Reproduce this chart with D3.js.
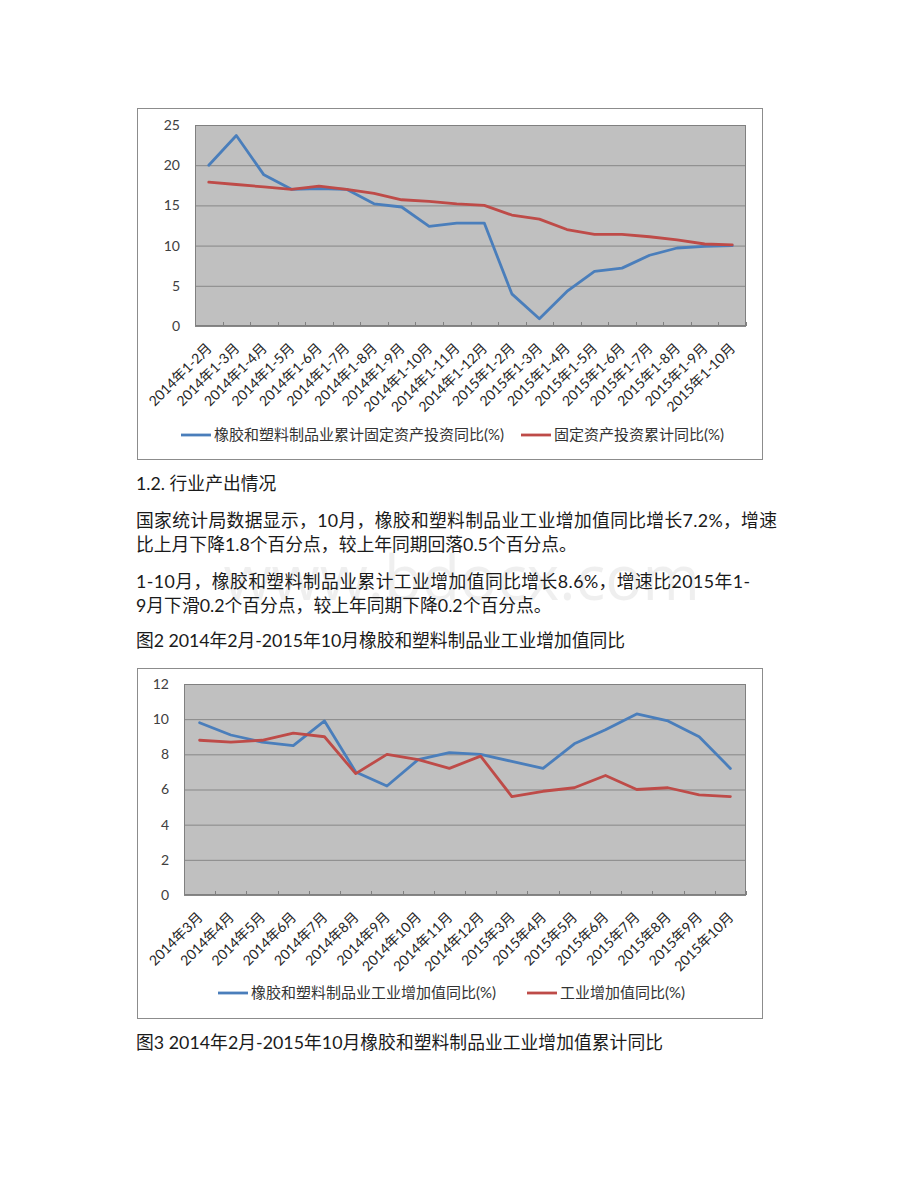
<!DOCTYPE html>
<html>
<head>
<meta charset="utf-8">
<script src="https://cdn.jsdelivr.net/npm/d3@7"></script>
<style>
  body { margin: 0; background: #fff; }
  svg text { font-family: Lato, "Noto Sans CJK SC", sans-serif; }
</style>
</head>
<body>
<svg id="page"></svg>
<script>
// ---- chart 1 data: cumulative fixed asset investment, y/y (%)
var cats1 = ["2014年1-2月", "2014年1-3月", "2014年1-4月", "2014年1-5月", "2014年1-6月",
             "2014年1-7月", "2014年1-8月", "2014年1-9月", "2014年1-10月", "2014年1-11月",
             "2014年1-12月", "2015年1-2月", "2015年1-3月", "2015年1-4月", "2015年1-5月",
             "2015年1-6月", "2015年1-7月", "2015年1-8月", "2015年1-9月", "2015年1-10月"];
var rubberInvest = [20.0, 23.7, 18.8, 17.0, 17.1, 17.0, 15.2, 14.8, 12.4, 12.8,
                    12.8, 4.0, 0.9, 4.3, 6.8, 7.2, 8.8, 9.7, 9.9, 10.0];
var fixedInvest = [17.9, 17.6, 17.3, 17.0, 17.4, 17.0, 16.5, 15.7, 15.5, 15.2,
                   15.0, 13.8, 13.3, 12.0, 11.4, 11.4, 11.1, 10.7, 10.2, 10.1];
var yTicks1 = [0, 5, 10, 15, 20, 25];
var legend1 = ["橡胶和塑料制品业累计固定资产投资同比(%)", "固定资产投资累计同比(%)"];

// ---- chart 2 data: industrial value added, y/y (%)
var cats2 = ["2014年3月", "2014年4月", "2014年5月", "2014年6月", "2014年7月", "2014年8月",
             "2014年9月", "2014年10月", "2014年11月", "2014年12月", "2015年3月", "2015年4月",
             "2015年5月", "2015年6月", "2015年7月", "2015年8月", "2015年9月", "2015年10月"];
var rubberAdded = [9.8, 9.1, 8.7, 8.5, 9.9, 7.0, 6.2, 7.7, 8.1, 8.0,
                   7.6, 7.2, 8.6, 9.4, 10.3, 9.9, 9.0, 7.2];
var industryAdded = [8.8, 8.7, 8.8, 9.2, 9.0, 6.9, 8.0, 7.7, 7.2, 7.9,
                     5.6, 5.9, 6.1, 6.8, 6.0, 6.1, 5.7, 5.6];
var yTicks2 = [0, 2, 4, 6, 8, 10, 12];
var legend2 = ["橡胶和塑料制品业工业增加值同比(%)", "工业增加值同比(%)"];

// ---- page text
var heading = "1.2. 行业产出情况";
var para1 = ["国家统计局数据显示，10月，橡胶和塑料制品业工业增加值同比增长7.2%，增速",
             "比上月下降1.8个百分点，较上年同期回落0.5个百分点。"];
var para2 = ["1-10月，橡胶和塑料制品业累计工业增加值同比增长8.6%，增速比2015年1-",
             "9月下滑0.2个百分点，较上年同期下降0.2个百分点。"];
var caption2 = "图2 2014年2月-2015年10月橡胶和塑料制品业工业增加值同比";
var caption3 = "图3 2014年2月-2015年10月橡胶和塑料制品业工业增加值累计同比";

var BLUE = "#4a7ebb", RED = "#be4b48";

var svg = d3.select("#page").attr("width", 920).attr("height", 1191);
svg.append("rect").attr("width", 920).attr("height", 1191).attr("fill", "#fff");

// faint watermark behind the text
svg.append("text")
   .attr("x", 700).attr("y", 600)
   .attr("text-anchor", "end")
   .style("font-family", "'Open Sans', sans-serif")
   .style("font-size", "62px")
   .attr("fill", "#000").attr("opacity", 0.06)
   .text("www.bdocx.com");

function drawChart(cfg) {
    var g = svg.append("g");
    var p = cfg.plot;

    // outer frame
    g.append("rect")
     .attr("x", cfg.frame.x + 0.5).attr("y", cfg.frame.y + 0.5)
     .attr("width", cfg.frame.w).attr("height", cfg.frame.h)
     .attr("fill", "#fff").attr("stroke", "#8c8c8c");

    var x = d3.scaleBand().domain(cfg.cats).range([p.left, p.right]);
    var y = d3.scaleLinear().domain([0, d3.max(cfg.yTicks)]).range([p.bottom, p.top]);

    // plot area
    g.append("rect")
     .attr("x", p.left).attr("y", p.top)
     .attr("width", p.right - p.left).attr("height", p.bottom - p.top)
     .attr("fill", "#c0c0c0");

    // gridlines
    var grid = g.append("g")
     .attr("transform", "translate(" + p.left + ",0)")
     .call(d3.axisLeft(y).tickValues(cfg.yTicks).tickSize(-(p.right - p.left)).tickFormat(""));
    grid.select(".domain").remove();
    grid.selectAll("line").attr("stroke", "#878787").attr("stroke-width", 1);

    // plot border
    g.append("rect")
     .attr("x", p.left + 0.5).attr("y", p.top + 0.5)
     .attr("width", p.right - p.left - 1).attr("height", p.bottom - p.top - 1)
     .attr("fill", "none").attr("stroke", "#808080");

    // y labels
    var yAx = g.append("g")
     .attr("transform", "translate(" + p.left + ",0)")
     .call(d3.axisLeft(y).tickValues(cfg.yTicks).tickSize(0).tickPadding(15));
    yAx.select(".domain").remove();
    yAx.selectAll("text")
       .style("font-family", "Lato, 'Noto Sans CJK SC', sans-serif")
       .style("font-size", "14px").attr("fill", "#404040");

    // category boundary ticks on the x axis
    var edges = cfg.cats.map(function(d) { return x(d); }).concat([p.right]);
    g.selectAll(".xtick").data(edges).enter().append("line")
     .attr("x1", function(d) { return Math.round(d) + 0.5; })
     .attr("x2", function(d) { return Math.round(d) + 0.5; })
     .attr("y1", p.bottom).attr("y2", p.bottom - 4)
     .attr("stroke", "#808080");

    // x labels, rotated
    g.selectAll(".xlab").data(cfg.cats).enter().append("text")
     .attr("transform", function(d) {
         return "translate(" + (x(d) + x.bandwidth() / 2 + 4) + "," + (p.bottom + 23) + ")rotate(-45)";
     })
     .attr("text-anchor", "end")
     .style("font-size", "14px")
     .attr("fill", "#262626")
     .text(function(d) { return d; });

    // series lines
    var line = d3.line()
        .x(function(d, i) { return x(cfg.cats[i]) + x.bandwidth() / 2; })
        .y(function(d) { return y(d); });

    cfg.series.forEach(function(s) {
        g.append("path")
         .datum(s.values)
         .attr("d", line)
         .attr("fill", "none")
         .attr("stroke", s.color)
         .attr("stroke-width", 2.8)
         .attr("stroke-linejoin", "round")
         .attr("stroke-linecap", "round");
    });

    // legend
    cfg.series.forEach(function(s, i) {
        var lx = cfg.legendX[i];
        g.append("line")
         .attr("x1", lx).attr("x2", lx + 30)
         .attr("y1", cfg.legendY).attr("y2", cfg.legendY)
         .attr("stroke", s.color).attr("stroke-width", 2.8);
        g.append("text")
         .attr("x", lx + 33).attr("y", cfg.legendY)
         .attr("dy", "0.35em")
         .style("font-size", "15px")
         .attr("fill", "#333")
         .text(s.label);
    });
}

drawChart({
    frame: { x: 137, y: 108, w: 625, h: 351 },
    plot: { left: 195, right: 746, top: 125, bottom: 326 },
    cats: cats1,
    yTicks: yTicks1,
    series: [
        { label: legend1[0], values: rubberInvest, color: BLUE },
        { label: legend1[1], values: fixedInvest, color: RED }
    ],
    legendX: [181, 521],
    legendY: 435
});

drawChart({
    frame: { x: 137, y: 668, w: 625, h: 350 },
    plot: { left: 184, right: 746, top: 684, bottom: 895 },
    cats: cats2,
    yTicks: yTicks2,
    series: [
        { label: legend2[0], values: rubberAdded, color: BLUE },
        { label: legend2[1], values: industryAdded, color: RED }
    ],
    legendX: [218, 527],
    legendY: 993
});

// body text
function addLine(str, yPos, fullWidth) {
    var t = svg.append("text")
        .attr("x", 136).attr("y", yPos)
        .style("font-size", "17.8px")
        .attr("fill", "#1a1a1a")
        .text(str);
    if (fullWidth) t.attr("textLength", fullWidth).attr("lengthAdjust", "spacing");
    return t;
}

addLine(heading, 490);
addLine(para1[0], 527, 641);
addLine(para1[1], 551);
addLine(para2[0], 588, 614);
addLine(para2[1], 612);
addLine(caption2, 647, 489);
addLine(caption3, 1049, 527);
</script>
</body>
</html>
